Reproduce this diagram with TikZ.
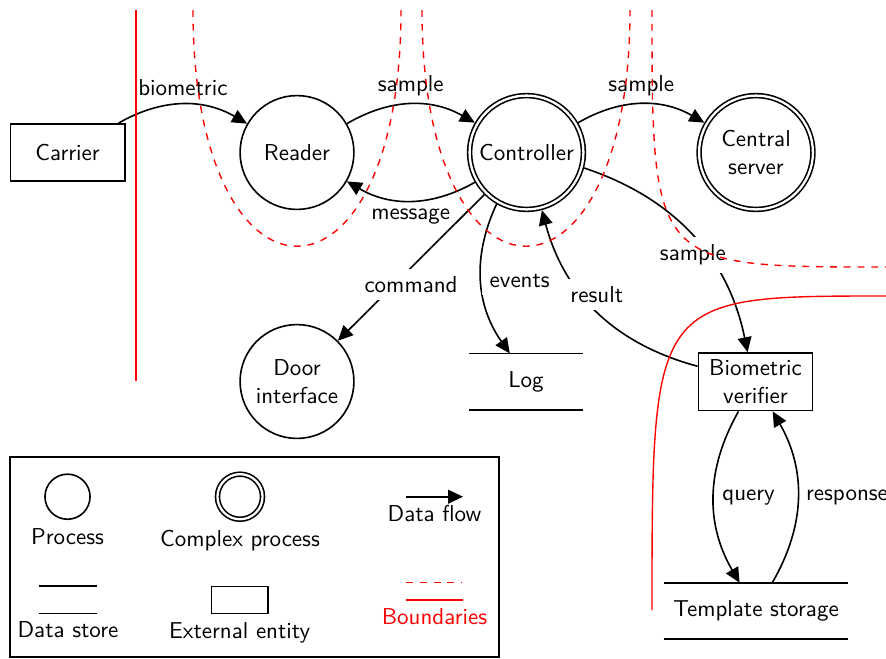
\documentclass[tikz,border=0pt]{standalone}
\usetikzlibrary{arrows.meta}
\renewcommand{\familydefault}{\sfdefault}
\begin{document}
\begin{tikzpicture}[x=0.4348pt, y=0.4348pt,
  base/.style={draw, line width=0.7pt},
  process/.style={base, circle, minimum size=49.5pt, inner sep=2pt, align=center},
  complexproc/.style={process, double, double distance=1pt, outer sep=1.2pt},
  entity/.style={base, rectangle, minimum width=49.7pt, minimum height=24.9pt, inner ysep=3pt, align=center},
  datastore/.style={rectangle, minimum width=49.3pt, minimum height=24.6pt, outer sep=0pt},
  storeline/.style={line width=0.7pt},
  flow/.style={line width=0.7pt, -{Triangle[length=6.5pt, width=6pt]}},
  lbl/.style={fill=white},
  boundary/.style={red, semithick},
  legendframe/.style={line width=0.7pt}
]
\useasboundingbox (0,0) rectangle (886,-658);

% processes, entities and stores
\node[entity] (carrier) at (67.6,-152.5) {Carrier};
\node[process] (reader) at (297,-152.5) {Reader};
\node[complexproc] (controller) at (526.5,-152.5) {Controller};
\node[complexproc] (server) at (756,-152.5) {Central\\server};
\node[process] (door) at (297,-381.5) {Door\\interface};
\node[datastore] (log) at (526,-381.7) {Log};
\node[entity] (verifier) at (755.5,-381.8) {Biometric\\verifier};
\node[datastore, minimum width=80.4pt] (storage) at (756,-611) {Template storage};

% data flows
\draw[flow] (carrier) to[bend left=30] node[above] {biometric} (reader);
\draw[flow] (reader) to[bend left=30] node[above] {sample} (controller);
\draw[flow] (controller) to[bend left=30] node[below] {message} (reader);
\draw[flow] (controller) to[bend left=30] node[above] {sample} (server);
\draw[flow] (controller) to[bend left=30] node[lbl, below] {sample} (verifier);
\draw[flow] (verifier) to[bend left=30] node[lbl, above] {result} (controller);
\draw[flow] (controller) -- node[lbl, below] {command} (door);
\draw[flow] (controller) to[bend right=30] node[lbl, right] {events} (log);
\draw[flow] (verifier) to[bend right=30] node[right] {query} (storage);
\draw[flow] (storage) to[bend right=30] node[right] {response} (verifier);

% legend
\draw[legendframe] (10,-456.7) rectangle (499,-656.7);
\node[process, minimum size=19.6pt] (lp) at (67.5,-496.7) {};
\node[below] (lpt) at (lp.south) {Process};
\node[complexproc, minimum size=19.6pt] (lc) at (240,-496.7) {};
\node[below] (lct) at (lc.south) {Complex process};
\coordinate (lf1) at (406,-496.7);
\coordinate (lf2) at (463,-496.7);
\draw[flow] (lf1) -- (lf2) node[midway, below] (lft) {Data flow};
\node[datastore, minimum width=24.8pt, minimum height=12pt] (ld) at (68,-599.5) {};
\node[below] (ldt) at (ld.south) {Data store};
\node[entity, minimum width=24.6pt, minimum height=11.7pt] (le) at (239.7,-600) {};
\node[below] (let) at (le.south) {External entity};
\coordinate (lb1) at (406,-582.3);
\coordinate (lb2) at (462,-582.3);
\coordinate (lb3) at (406,-600);
\coordinate (lb4) at (463,-600);
\draw[boundary, dashed] (lb1) -- (lb2);
\draw[boundary] (lb3) -- (lb4) node[midway, below, text=red] (lbt) {Boundaries};

% data store edges
\foreach \n in {log, storage, ld}
  \draw[storeline] (\n.north west) -- (\n.north east) (\n.south west) -- (\n.south east);

% trust boundaries
\draw[boundary] (136,-10) -- (136,-381);
\draw[boundary, dashed] (193,-10) .. controls (193,-325) and (401,-325) .. (401,-10);
\draw[boundary, dashed] (422,-10) .. controls (422,-325) and (630,-325) .. (630,-10);
\draw[boundary, dashed] (652,-10) .. controls (652,-267) and (652,-267) .. (886,-267);
\draw[boundary] (652,-610) .. controls (652,-296) and (652,-296) .. (886,-296);
\end{tikzpicture}
\end{document}
